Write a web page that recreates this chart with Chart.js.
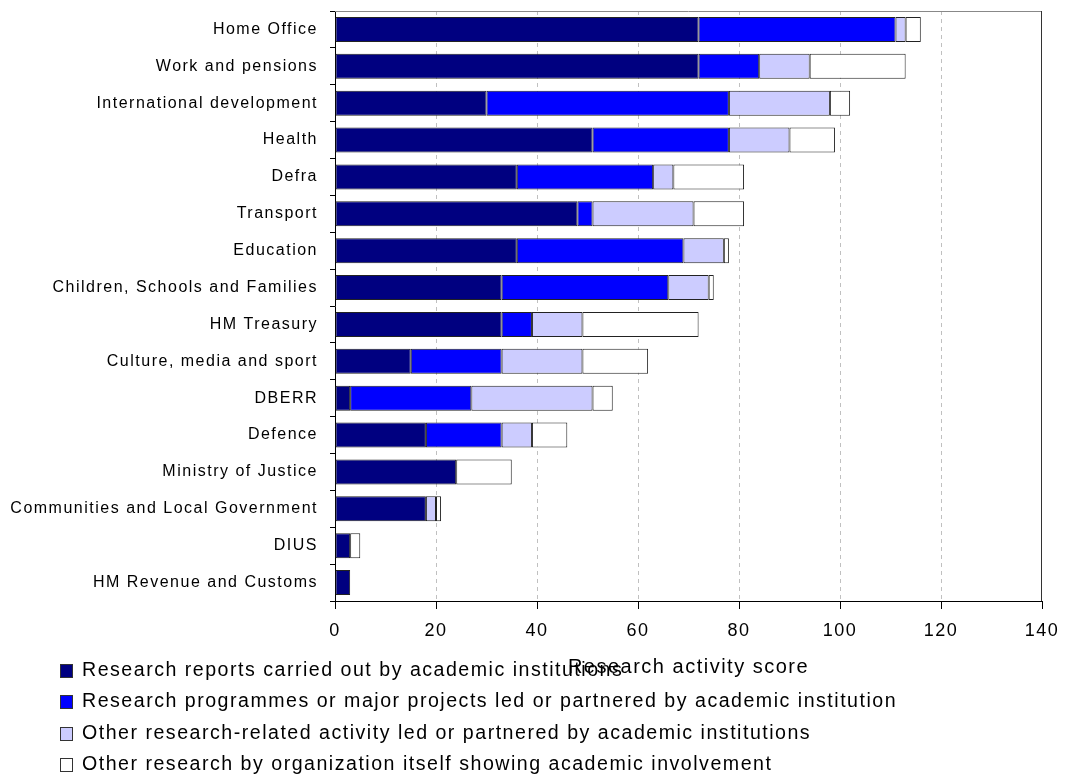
<!DOCTYPE html>
<html>
<head>
<meta charset="utf-8">
<script src="https://cdn.jsdelivr.net/npm/chart.js@4"></script>
<style>
  html, body { margin: 0; padding: 0; background: #fff; }
  #wrap { width: 1065px; height: 778px; position: relative; }
</style>
</head>
<body>
<div id="wrap"><canvas id="research-chart"></canvas></div>
<script>
// Departments, top to bottom
const departments = [
  'Home Office', 'Work and pensions', 'International development', 'Health',
  'Defra', 'Transport', 'Education', 'Children, Schools and Families',
  'HM Treasury', 'Culture, media and sport', 'DBERR', 'Defence',
  'Ministry of Justice', 'Communities and Local Government', 'DIUS',
  'HM Revenue and Customs'
];

// Segment sizes
const academicReports  = [72, 72, 30, 51, 36, 48, 36, 33, 33, 15, 3, 18, 24, 18, 3, 3];
const majorProgrammes  = [39, 12, 48, 27, 27, 3, 33, 33, 6, 18, 24, 15, null, null, null, null];
const otherAcademic    = [2, 10, 20, 12, 4, 20, 8, 8, 10, 16, 24, 6, null, 2, null, null];
const orgItself        = [3, 19, 4, 9, 14, 10, 1, 1, 23, 13, 4, 7, 11, 1, 2, null];

const seriesLabels = [
  'Research reports carried out by academic institutions',
  'Research programmes or major projects led or partnered by academic institution',
  'Other research-related activity led or partnered by academic institutions',
  'Other research by organization itself showing academic involvement'
];
const seriesColors = ['#000080', '#0000FF', '#CCCCFF', '#FFFFFF'];

const xTicks = [0, 20, 40, 60, 80, 100, 120, 140];

const FONT = 'Arial, "Liberation Sans", sans-serif';
const SPACING = '1.5px';

// letter spacing to mimic the spaced-out export text
const spacing = {
  id: 'spacing',
  beforeLayout(chart) { chart.ctx.letterSpacing = SPACING; },
  beforeDraw(chart) { chart.ctx.letterSpacing = SPACING; }
};

// frame on top and right of plot area
const frame = {
  id: 'frame',
  afterDatasetsDraw(chart) {
    const { ctx, chartArea: a } = chart;
    ctx.save();
    ctx.lineWidth = 1;
    ctx.strokeStyle = '#888';
    ctx.beginPath();
    ctx.moveTo(a.left, a.top + 0.5);
    ctx.lineTo(a.right, a.top + 0.5);
    ctx.stroke();
    ctx.strokeStyle = '#333';
    ctx.beginPath();
    ctx.moveTo(a.right - 0.5, a.top);
    ctx.lineTo(a.right - 0.5, a.bottom);
    ctx.stroke();
    ctx.restore();
  }
};

// stacked legend under the axis, one item per line
const legendRows = {
  id: 'legendRows',
  afterDraw(chart) {
    const ctx = chart.ctx;
    ctx.save();
    ctx.letterSpacing = SPACING;
    ctx.font = '19.6px ' + FONT;
    ctx.textBaseline = 'middle';
    ctx.textAlign = 'left';
    const rows = [671, 702, 734, 765];
    seriesLabels.forEach((txt, i) => {
      const y = rows[i];
      ctx.fillStyle = seriesColors[i];
      ctx.fillRect(60.5, y - 6.5, 12, 13);
      ctx.strokeStyle = '#333';
      ctx.lineWidth = 1;
      ctx.strokeRect(60.5, y - 6.5, 12, 13);
      ctx.fillStyle = '#000';
      ctx.fillText(txt, 82, y);
    });
    ctx.restore();
  }
};

const datasets = [academicReports, majorProgrammes, otherAcademic, orgItself].map((vals, i) => ({
  label: seriesLabels[i],
  data: vals,
  backgroundColor: seriesColors[i],
  borderColor: '#222',
  borderWidth: 1,
  borderSkipped: false,
  barPercentage: 0.68,
  categoryPercentage: 1
}));

new Chart(document.getElementById('research-chart'), {
  type: 'bar',
  data: { labels: departments, datasets },
  options: {
    indexAxis: 'y',
    responsive: true,
    maintainAspectRatio: false,
    animation: false,
    layout: { padding: { top: 11, right: 23, left: 0, bottom: 0 } },
    plugins: {
      legend: { display: false },
      tooltip: { enabled: false }
    },
    scales: {
      x: {
        stacked: true,
        min: 0,
        max: 140,
        afterBuildTicks: (scale) => { scale.ticks = xTicks.map(v => ({ value: v })); },
        afterFit: (scale) => {
          scale.height = 177;
          scale.paddingLeft = 0;
          scale.paddingRight = 0;
        },
        border: { display: true, color: '#000', width: 1, dash: [4, 4] },
        grid: {
          color: (c) => (c.tick && (c.tick.value === 0 || c.tick.value === 140)) ? 'rgba(0,0,0,0)' : '#c0c0c0',
          tickColor: '#000',
          tickLength: 8,
          tickBorderDash: []
        },
        ticks: {
          color: '#000',
          padding: 11,
          font: { family: FONT, size: 18 }
        },
        title: {
          display: true,
          text: 'Research activity score',
          color: '#000',
          font: { family: FONT, size: 20 },
          padding: { top: 0, bottom: 99 }
        }
      },
      y: {
        stacked: true,
        afterFit: (scale) => {
          scale.width = 335;
          scale.paddingTop = 0;
          scale.paddingBottom = 0;
        },
        border: { display: true, color: '#000', width: 1 },
        grid: {
          drawOnChartArea: false,
          tickColor: '#000',
          tickLength: 5,
          offset: true
        },
        ticks: {
          color: '#000',
          padding: 12,
          font: { family: FONT, size: 16 }
        }
      }
    }
  },
  plugins: [spacing, frame, legendRows]
});
</script>
</body>
</html>
